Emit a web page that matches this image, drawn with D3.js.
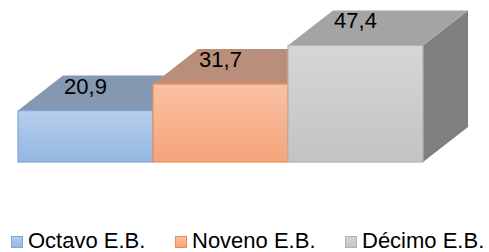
<!DOCTYPE html>
<html>
<head>
<meta charset="utf-8">
<script src="https://cdn.jsdelivr.net/npm/d3@7"></script>
<style>
  body { margin: 0; background: #fff; }
  text { font-family: "Liberation Sans", Arial, sans-serif; }
</style>
</head>
<body>
<script>
const categories = ["Octavo E.B.", "Noveno E.B.", "Décimo E.B."];
const values = [20.9, 31.7, 47.4];
const labels = ["20,9", "31,7", "47,4"];

const fronts = [["#b5ceeb", "#94b7e3"], ["#f9c1a3", "#f6a47a"], ["#d6d6d6", "#c3c3c3"]];
const strokes = ["#7fa6d6", "#f08c50", "#b2b2b2"];
const tops = ["#8598b1", "#b98e7b", "#a4a4a4"];
const sides = ["#6f8bb5", "#c0714a", "#7f7f7f"];

const svg = d3.select("body")
              .append("svg")
              .attr("width", 489)
              .attr("height", 252);

const defs = svg.append("defs");
fronts.forEach((c, i) => {
    const g = defs.append("linearGradient")
                  .attr("id", "grad" + i)
                  .attr("x1", 0).attr("y1", 0)
                  .attr("x2", 0).attr("y2", 1);
    g.append("stop").attr("offset", "0%").attr("stop-color", c[0]);
    g.append("stop").attr("offset", "100%").attr("stop-color", c[1]);
});

const xscale = d3.scaleBand()
                 .domain(categories)
                 .range([18, 423])
                 .padding(0);

const yscale = d3.scaleLinear()
                 .domain([0, 50])
                 .range([162, 39]);

// depth of the 3d boxes
const dx = 45, dy = 35;

const bars = svg.append("g");

categories.forEach((c, i) => {
    const x0 = xscale(c);
    const x1 = x0 + xscale.bandwidth();
    const y0 = yscale(values[i]);
    const yb = yscale(0);
    const g = bars.append("g");

    // side face
    g.append("polygon")
     .attr("points", [[x1, y0], [x1 + dx, y0 - dy], [x1 + dx, yb - dy], [x1, yb]].join(" "))
     .attr("fill", sides[i]);

    // top face
    g.append("polygon")
     .attr("points", [[x0, y0], [x0 + dx, y0 - dy], [x1 + dx, y0 - dy], [x1, y0]].join(" "))
     .attr("fill", tops[i]);

    // front face
    g.append("rect")
     .attr("x", x0)
     .attr("y", y0)
     .attr("width", x1 - x0)
     .attr("height", yb - y0)
     .attr("fill", "url(#grad" + i + ")")
     .attr("stroke", strokes[i])
     .attr("stroke-width", 1.2);

    g.append("text")
     .attr("x", (x0 + x1) / 2)
     .attr("y", y0 - 17)
     .attr("text-anchor", "middle")
     .attr("font-size", "22px")
     .attr("fill", "#000")
     .text(labels[i]);
});

// legend
const legendX = [11, 175, 345];
const legend = svg.append("g");
categories.forEach((c, i) => {
    legend.append("rect")
          .attr("x", legendX[i] + 0.5)
          .attr("y", 236.5)
          .attr("width", 11)
          .attr("height", 11)
          .attr("fill", "url(#grad" + i + ")")
          .attr("stroke", strokes[i])
          .attr("stroke-width", 1);
    legend.append("text")
          .attr("x", legendX[i] + 17)
          .attr("y", 248)
          .attr("font-size", "22px")
          .attr("fill", "#000")
          .text(c);
});
</script>
</body>
</html>
